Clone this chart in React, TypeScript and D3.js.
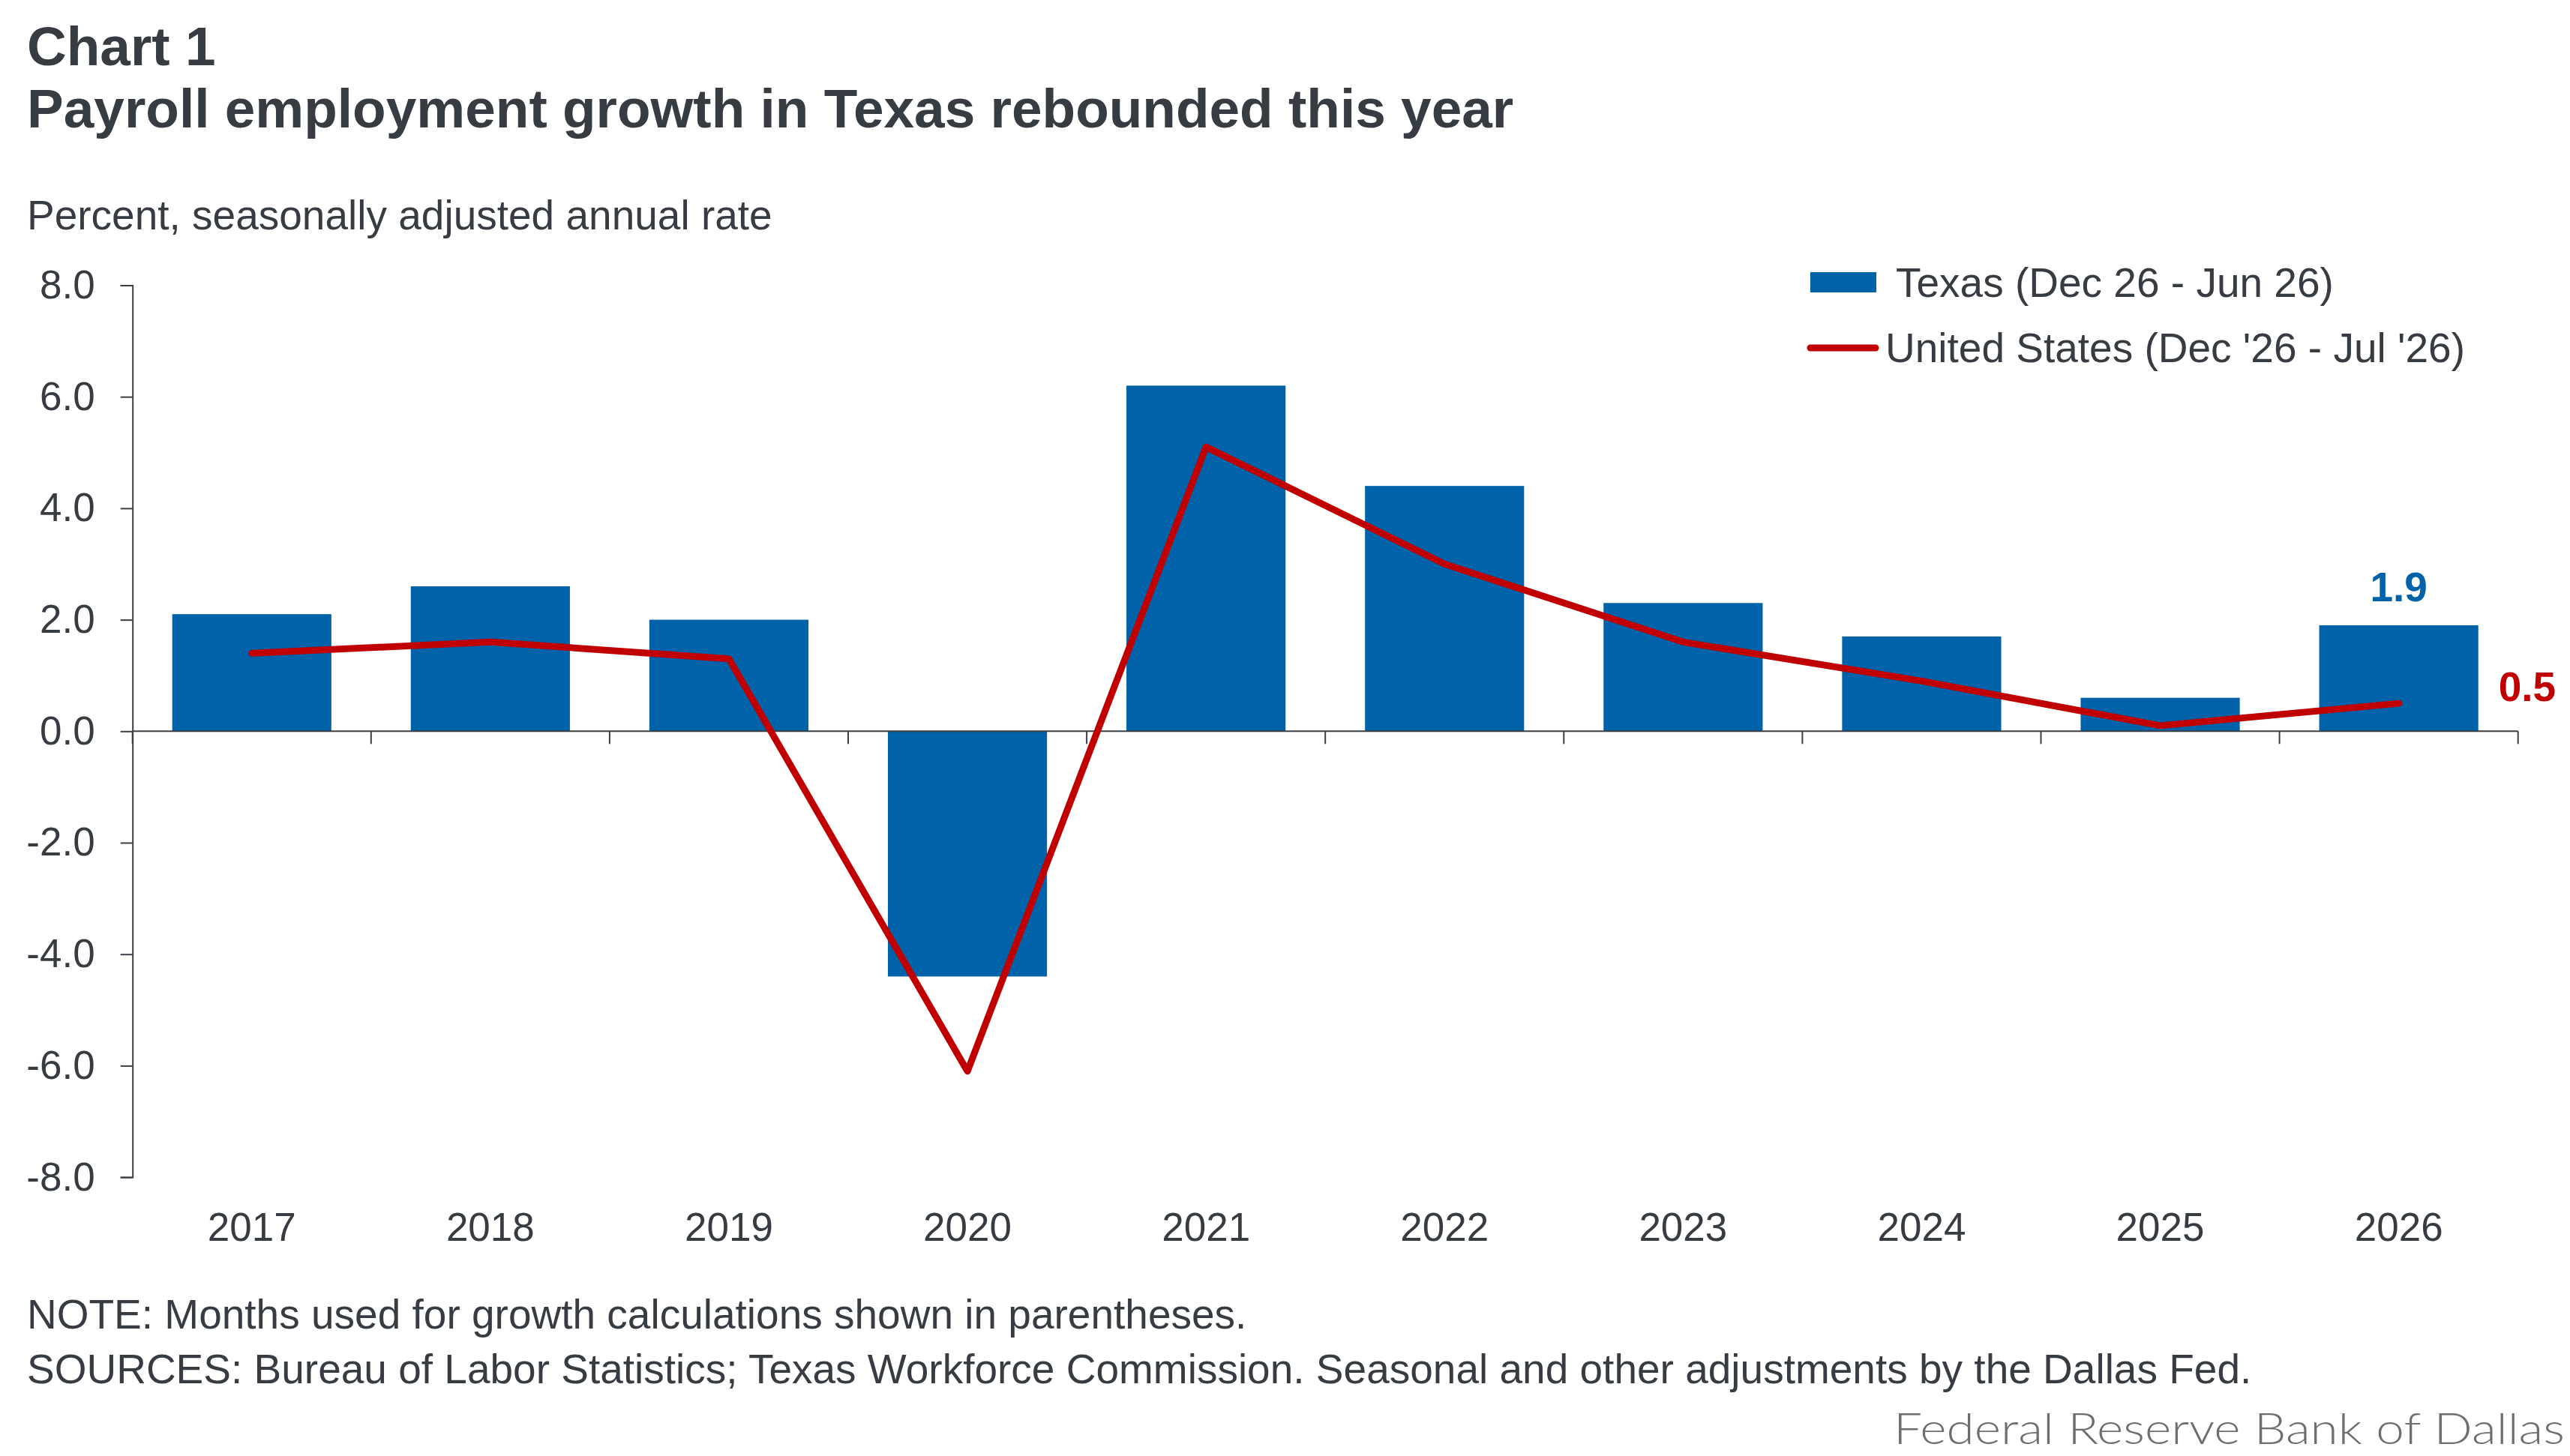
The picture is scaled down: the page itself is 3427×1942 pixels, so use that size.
import * as d3 from "d3";
import React, { useEffect, useRef } from "react";

// Chart data
const years = ["2017", "2018", "2019", "2020", "2021", "2022", "2023", "2024", "2025", "2026"];
const texasValues = [2.1, 2.6, 2.0, -4.4, 6.2, 4.4, 2.3, 1.7, 0.6, 1.9];
const usValues = [1.4, 1.6, 1.3, -6.1, 5.1, 3.0, 1.6, 0.9, 0.1, 0.5];
const yTicks = [8, 6, 4, 2, 0, -2, -4, -6, -8];

const titleLines = ["Chart 1", "Payroll employment growth in Texas rebounded this year"];
const subtitle = "Percent, seasonally adjusted annual rate";
const legendLabels = ["Texas (Dec 26 - Jun 26)", "United States (Dec '26 - Jul '26)"];
const footnotes = [
  "NOTE: Months used for growth calculations shown in parentheses.",
  "SOURCES: Bureau of Labor Statistics; Texas Workforce Commission. Seasonal and other adjustments by the Dallas Fed.",
];
const credit = "Federal Reserve Bank of Dallas";

const W = 3427;
const H = 1942;
const BLUE = "#0062a9";
const RED = "#c00000";
const TEXT = "#373c43";
const AXIS = "#3a3f46";
const FONT = "'Liberation Sans', Arial, Helvetica, sans-serif";

const App: React.FC = () => {
  const svgRef = useRef<SVGSVGElement>(null);

  useEffect(() => {
    if (!svgRef.current) return;
    const svg = d3.select(svgRef.current);
    svg.selectAll("*").remove();

    svg.append("rect").attr("width", W).attr("height", H).attr("fill", "#ffffff");

    // Scales
    const x = d3
      .scaleBand<string>()
      .domain(years)
      .range([176.7, 3357.7])
      .paddingInner(0.333)
      .paddingOuter(0.1665);
    const y = d3.scaleLinear().domain([-8, 8]).range([1570.1, 380.5]);
    const cx = (yr: string) => (x(yr) || 0) + x.bandwidth() / 2;

    // Titles
    titleLines.forEach((t, i) => {
      svg
        .append("text")
        .attr("x", 36)
        .attr("y", 87 + i * 83)
        .attr("fill", TEXT)
        .style("font-family", FONT)
        .style("font-size", "73px")
        .style("font-weight", "bold")
        .text(t);
    });

    svg
      .append("text")
      .attr("x", 36)
      .attr("y", 306)
      .attr("fill", TEXT)
      .style("font-family", FONT)
      .style("font-size", "55px")
      .text(subtitle);

    // Bars
    svg
      .append("g")
      .selectAll("rect")
      .data(years)
      .join("rect")
      .attr("x", (d) => x(d) || 0)
      .attr("width", x.bandwidth())
      .attr("y", (d, i) => y(Math.max(0, texasValues[i])))
      .attr("height", (d, i) => Math.abs(y(texasValues[i]) - y(0)))
      .attr("fill", BLUE);

    // Y axis
    const yAxis = d3
      .axisLeft(y)
      .tickValues(yTicks)
      .tickSize(16)
      .tickPadding(34)
      .tickFormat((d) => (d as number).toFixed(1));
    const gy = svg
      .append("g")
      .attr("transform", `translate(${x.range()[0]},0)`)
      .call(yAxis);
    gy.select(".domain").attr("stroke", AXIS).attr("stroke-width", 2);
    gy.selectAll(".tick line").attr("stroke", AXIS).attr("stroke-width", 2);
    gy.selectAll(".tick text")
      .attr("fill", TEXT)
      .style("font-family", FONT)
      .style("font-size", "53px");

    // X axis line at zero with category boundary ticks
    const [x0, x1] = x.range();
    const gx = svg.append("g");
    gx.append("line")
      .attr("x1", x0)
      .attr("x2", x1)
      .attr("y1", y(0))
      .attr("y2", y(0))
      .attr("stroke", AXIS)
      .attr("stroke-width", 2);
    gx.selectAll("line.bt")
      .data(d3.range(years.length + 1))
      .join("line")
      .attr("class", "bt")
      .attr("x1", (i) => x0 + i * x.step())
      .attr("x2", (i) => x0 + i * x.step())
      .attr("y1", y(0))
      .attr("y2", y(0) + 17)
      .attr("stroke", AXIS)
      .attr("stroke-width", 2);

    // Year labels below the plot
    const xAxis = d3.axisBottom(x).tickSize(0).tickPadding(47);
    const gxl = svg
      .append("g")
      .attr("transform", `translate(0,${y(-8)})`)
      .call(xAxis);
    gxl.select(".domain").remove();
    gxl.selectAll(".tick text")
      .attr("fill", TEXT)
      .style("font-family", FONT)
      .style("font-size", "53px");

    // US line
    const line = d3
      .line<number>()
      .x((d, i) => cx(years[i]))
      .y((d) => y(d));
    svg
      .append("path")
      .datum(usValues)
      .attr("d", line)
      .attr("fill", "none")
      .attr("stroke", RED)
      .attr("stroke-width", 9)
      .attr("stroke-linejoin", "round")
      .attr("stroke-linecap", "round");

    // Last-value labels
    const last = years.length - 1;
    svg
      .append("text")
      .attr("x", cx(years[last]))
      .attr("y", y(texasValues[last]) - 32)
      .attr("text-anchor", "middle")
      .attr("fill", BLUE)
      .style("font-family", FONT)
      .style("font-size", "55px")
      .style("font-weight", "bold")
      .text(texasValues[last].toFixed(1));
    svg
      .append("text")
      .attr("x", cx(years[last]) + 133)
      .attr("y", y(usValues[last]) - 3)
      .attr("fill", RED)
      .style("font-family", FONT)
      .style("font-size", "55px")
      .style("font-weight", "bold")
      .text(usValues[last].toFixed(1));

    // Legend
    const lg = svg.append("g");
    lg.append("rect")
      .attr("x", 2414)
      .attr("y", 363)
      .attr("width", 88)
      .attr("height", 27)
      .attr("fill", BLUE);
    lg.append("text")
      .attr("x", 2528)
      .attr("y", 396)
      .attr("fill", TEXT)
      .style("font-family", FONT)
      .style("font-size", "55px")
      .text(legendLabels[0]);
    lg.append("line")
      .attr("x1", 2414)
      .attr("x2", 2501)
      .attr("y1", 464)
      .attr("y2", 464)
      .attr("stroke", RED)
      .attr("stroke-width", 9)
      .attr("stroke-linecap", "round");
    lg.append("text")
      .attr("x", 2514)
      .attr("y", 483)
      .attr("fill", TEXT)
      .style("font-family", FONT)
      .style("font-size", "55px")
      .text(legendLabels[1]);

    // Footnotes
    footnotes.forEach((t, i) => {
      svg
        .append("text")
        .attr("x", 36)
        .attr("y", 1772 + i * 73)
        .attr("fill", TEXT)
        .style("font-family", FONT)
        .style("font-size", "55px")
        .text(t);
    });

    svg
      .append("text")
      .attr("x", 3420)
      .attr("y", 1926)
      .attr("text-anchor", "end")
      .attr("fill", "#6d6e70")
      .attr("textLength", 895)
      .attr("lengthAdjust", "spacingAndGlyphs")
      .style("font-family", "Lato, 'Open Sans', sans-serif")
      .style("font-weight", 300)
      .style("font-size", "58px")
      .text(credit);
  }, []);

  return (
    <svg
      ref={svgRef}
      width={W}
      height={H}
      style={{ position: "absolute", left: 0, top: 0, display: "block" }}
    />
  );
};

export default App;
